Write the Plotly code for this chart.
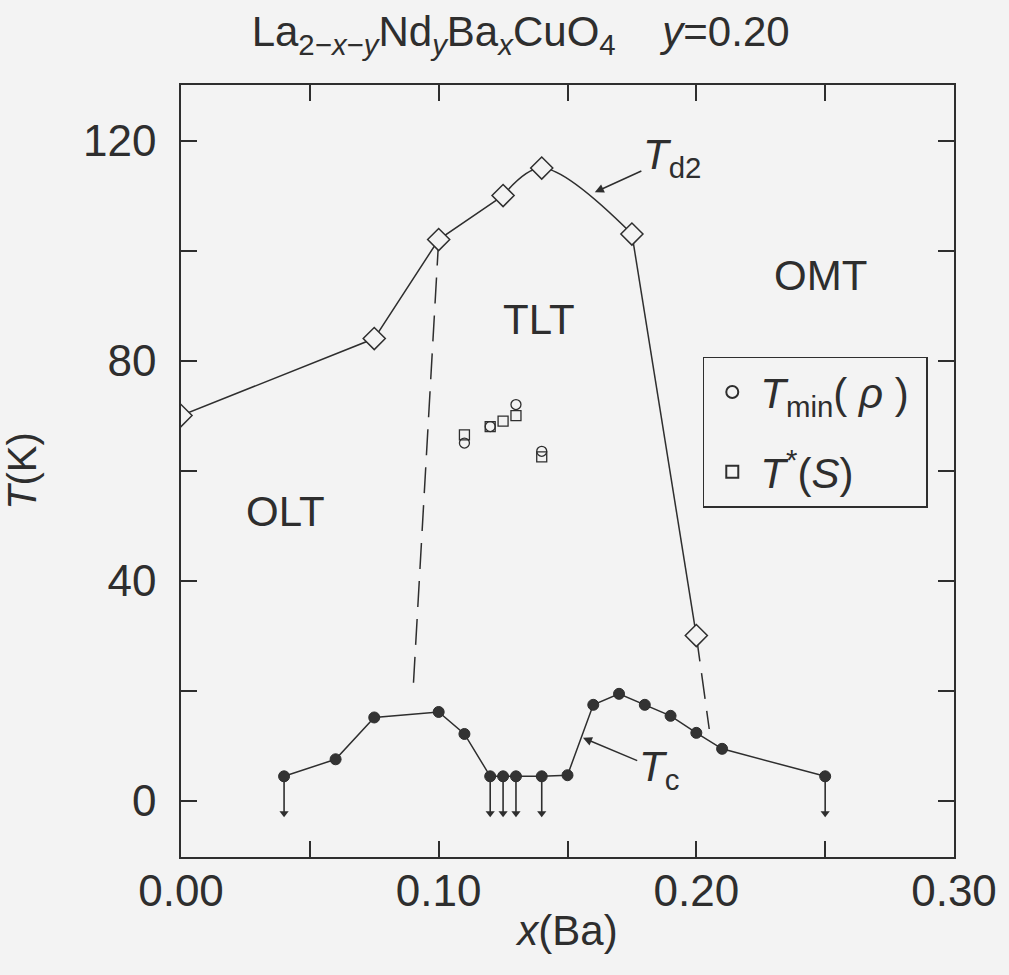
import plotly.graph_objects as go

# ---------------- data ----------------
# T_d2 structural transition (open diamonds)
td2_x = [0.00, 0.075, 0.10, 0.125, 0.14, 0.175, 0.20]
td2_T = [70, 84, 102, 110, 115, 103, 30]

# T_c superconducting transition (filled circles); flagged points are upper limits
tc_x = [0.04, 0.06, 0.075, 0.10, 0.11, 0.12, 0.125, 0.13, 0.14, 0.15,
        0.16, 0.17, 0.18, 0.19, 0.20, 0.21, 0.25]
tc_T = [4.4, 7.5, 15.1, 16.1, 12.1, 4.4, 4.4, 4.4, 4.4, 4.6,
        17.4, 19.4, 17.4, 15.4, 12.3, 9.4, 4.4]
tc_upper = [True, False, False, False, False, True, True, True, True, False,
            False, False, False, False, False, False, True]

# T_min(rho) (small open circles)
tmin_x = [0.11, 0.12, 0.13, 0.14]
tmin_T = [65.0, 68.0, 72.0, 63.5]

# T*(S) (small open squares)
tstar_x = [0.11, 0.12, 0.125, 0.13, 0.14]
tstar_T = [66.5, 68.0, 69.0, 70.0, 62.5]

# dashed phase boundaries
bnd_left_x = [0.10, 0.09]
bnd_left_T = [102, 19.5]
bnd_right_x = [0.20, 0.205]
bnd_right_T = [30, 13]

# axis ticks (labelled major ticks + unlabelled minor ticks)
x_ticks = [0.00, 0.10, 0.20, 0.30]
x_ticklabels = ["0.00", "0.10", "0.20", "0.30"]
x_minor_ticks = [0.05, 0.15, 0.25]
y_ticks = [0, 40, 80, 120]
y_ticklabels = ["0", "40", "80", "120"]
y_minor_ticks = [20, 60, 100]

# ---------------- style ----------------
BG = "#f3f3f3"
INK = "#2e2e2e"
FONT = "Liberation Sans, Arial, Helvetica, sans-serif"
ARROW_LEN = 7.7

fig = go.Figure()

# dashed phase boundaries
for bx, bT in [(bnd_left_x, bnd_left_T), (bnd_right_x, bnd_right_T)]:
    fig.add_trace(go.Scatter(x=bx, y=bT, mode="lines", showlegend=False,
                             line=dict(color=INK, width=1.5, dash="26px,12px"),
                             hoverinfo="skip"))

# T_d2 line: straight segments on the left, rounded top, straight drop
line_d2 = dict(color=INK, width=1.5)
fig.add_trace(go.Scatter(x=td2_x[:4], y=td2_T[:4], mode="lines",
                         line=line_d2, showlegend=False, hoverinfo="skip"))
fig.add_trace(go.Scatter(x=td2_x[3:6], y=td2_T[3:6], mode="lines",
                         line=dict(shape="spline", smoothing=1.0, **line_d2),
                         showlegend=False, hoverinfo="skip"))
fig.add_trace(go.Scatter(x=td2_x[5:], y=td2_T[5:], mode="lines",
                         line=line_d2, showlegend=False, hoverinfo="skip"))
fig.add_trace(go.Scatter(
    x=td2_x, y=td2_T, mode="markers", name="T_d2", showlegend=False,
    cliponaxis=True,
    marker=dict(symbol="diamond", size=17, color=BG,
                line=dict(color=INK, width=1.5))))

# upper-limit arrows for T_c
ax_x, ax_y, tip_x, tip_y = [], [], [], []
for xv, Tv, up in zip(tc_x, tc_T, tc_upper):
    if up:
        ax_x += [xv, xv, None]
        ax_y += [Tv, Tv - ARROW_LEN + 1.2, None]
        tip_x.append(xv)
        tip_y.append(Tv - ARROW_LEN + 1.0)
fig.add_trace(go.Scatter(x=ax_x, y=ax_y, mode="lines", showlegend=False,
                         line=dict(color=INK, width=1.6), hoverinfo="skip"))
fig.add_trace(go.Scatter(x=tip_x, y=tip_y, mode="markers", showlegend=False,
                         marker=dict(symbol="triangle-down", size=8,
                                     color=INK, line=dict(width=0)),
                         hoverinfo="skip"))

# T_c
fig.add_trace(go.Scatter(
    x=tc_x, y=tc_T, mode="lines+markers", name="T_c", showlegend=False,
    line=dict(color=INK, width=1.5),
    marker=dict(symbol="circle", size=11, color="#333333",
                line=dict(color=INK, width=1))))

fig.add_trace(go.Scatter(
    x=tmin_x, y=tmin_T, mode="markers",
    name="<i>T</i><sub>min</sub>( <i>ρ</i> )\u00a0", legendgroup="a",
    marker=dict(symbol="circle-open", size=10, color=INK,
                line=dict(color=INK, width=1.3))))

fig.add_trace(go.Scatter(
    x=tstar_x, y=tstar_T, mode="markers",
    name="<i>T</i><sup>*</sup>(<i>S</i>)", legendgroup="b",
    marker=dict(symbol="square-open", size=10, color=INK,
                line=dict(color=INK, width=1.3))))

label_font = dict(family=FONT, size=42, color=INK)
annotations = [
    dict(x=0.0406, y=52.6, text="OLT", showarrow=False, font=label_font),
    dict(x=0.1388, y=87.5, text="TLT", showarrow=False, font=label_font),
    dict(x=0.248, y=95.5, text="OMT", showarrow=False, font=label_font),
    dict(x=0.1606, y=110.6, ax=0.1905, ay=117.0,
         xref="x", yref="y", axref="x", ayref="y",
         text="<i>T</i><sub>d2</sub>", showarrow=True, arrowhead=2,
         arrowsize=1.2, arrowwidth=1.5, arrowcolor=INK, font=label_font),
    dict(x=0.156, y=11.4, ax=0.1854, ay=5.6,
         xref="x", yref="y", axref="x", ayref="y",
         text="<i>T</i><sub>c</sub>", showarrow=True, arrowhead=2,
         arrowsize=1.2, arrowwidth=1.5, arrowcolor=INK, font=label_font),
]

axis_common = dict(
    showline=True, mirror="ticks", linecolor=INK, linewidth=1.5,
    ticks="inside", ticklen=16, tickwidth=1.5, tickcolor=INK,
    showgrid=False, zeroline=False,
    tickfont=dict(family=FONT, size=44, color=INK),
)
minor_common = dict(ticks="inside", ticklen=16, tickwidth=1.5,
                    tickcolor=INK, showgrid=False)

fig.update_layout(
    width=1009, height=975,
    margin=dict(l=181, r=53, t=85, b=118),
    paper_bgcolor=BG, plot_bgcolor=BG,
    font=dict(family=FONT, color=INK),
    title=dict(
        text="La<sub>2−<i>x</i>−<i>y</i></sub>Nd<sub><i>y</i></sub>Ba<sub><i>x</i></sub>CuO<sub>4</sub>"
             "    <i>y</i>=0.20",
        x=0.516, xref="container", xanchor="center",
        y=0.968, yref="container", yanchor="middle",
        font=dict(family=FONT, size=42, color=INK)),
    xaxis=dict(range=[0, 0.30], tickvals=x_ticks, ticktext=x_ticklabels,
               minor=dict(tickvals=x_minor_ticks, **minor_common),
               ticklabelstandoff=-6,
               title=dict(text="<i>x</i>(Ba)", standoff=2,
                          font=dict(family=FONT, size=42, color=INK)),
               **axis_common),
    yaxis=dict(range=[-10.27, 130.1], tickvals=y_ticks, ticktext=y_ticklabels,
               minor=dict(tickvals=y_minor_ticks, **minor_common),
               ticklabelstandoff=14,
               title=dict(text="<i>T</i>(K)", standoff=34,
                          font=dict(family=FONT, size=40, color=INK)),
               **axis_common),
    legend=dict(x=0.675, y=0.648, xanchor="left", yanchor="top",
                bgcolor=BG, bordercolor=INK, borderwidth=1.5,
                font=dict(family=FONT, size=42, color=INK),
                tracegroupgap=22, itemsizing="constant", itemwidth=46),
    annotations=annotations,
    showlegend=True,
)

fig.write_html("out.html")
